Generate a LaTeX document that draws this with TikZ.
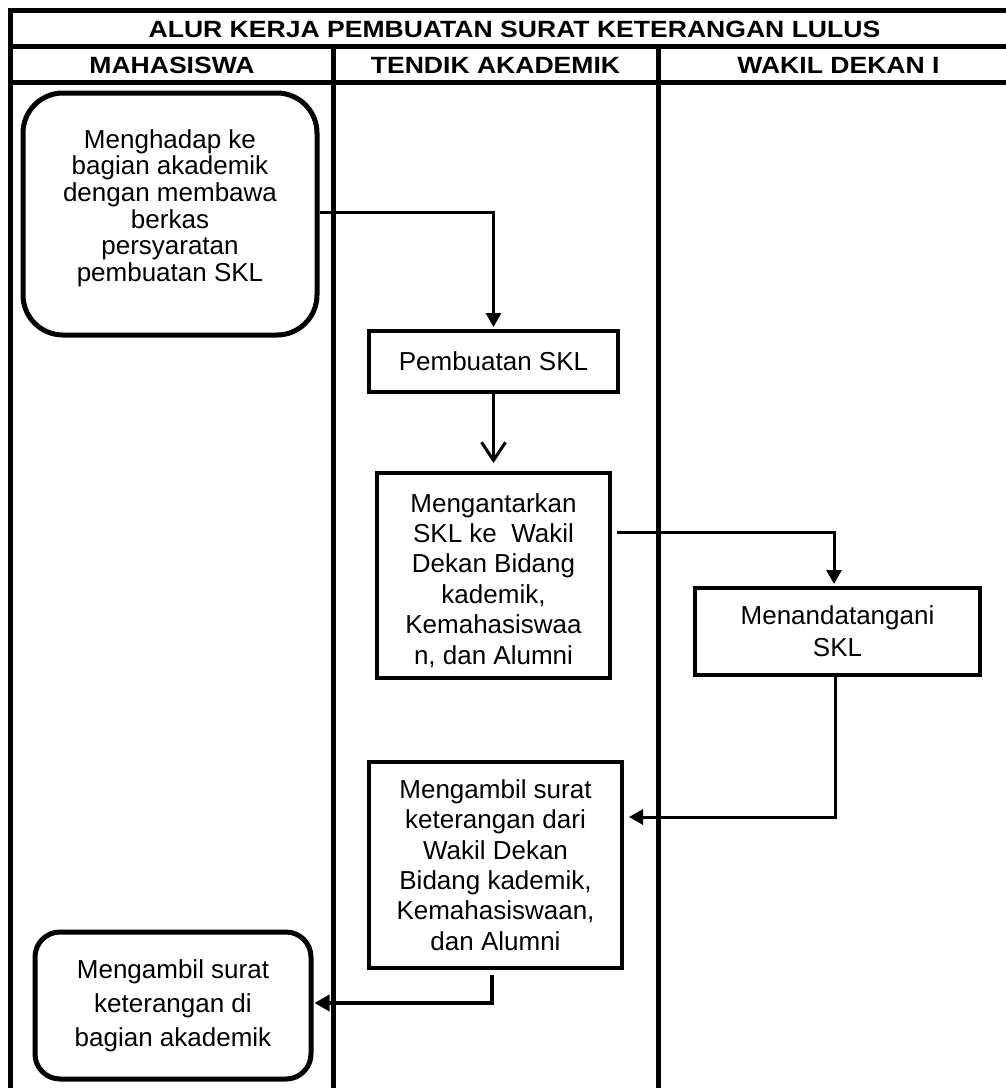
\documentclass[tikz,border=0pt]{standalone}
\usepackage{fontspec}
\setmainfont{Liberation Sans}
\newfontfamily\hdrfont{Liberation Sans}[FakeStretch=1.13]
\usetikzlibrary{arrows.meta,calc}
\begin{document}
\begin{tikzpicture}[x=1pt,y=-1pt,
  lane/.style={line width=5pt},
  procbox/.style={draw, line width=4pt, align=center, inner sep=0pt},
  termbox/.style={draw, line width=5pt, align=center, inner sep=0pt},
  conn/.style={line width=3pt},
  tri/.style={-{Triangle[length=14pt,width=15pt]}},
  hdr/.style={font=\hdrfont\fontsize{23.5}{28}\selectfont\bfseries, inner sep=0pt, anchor=base}
]
\clip (0,0) rectangle (1006,1088);
% table frame
\draw[lane] (10,10) rectangle (1019,1110);
\draw[lane] (10,46.5) -- (1019,46.5);
\draw[lane] (10,82.5) -- (1019,82.5);
\draw[lane] (333.5,46.5) -- (333.5,1110);
\draw[lane] (658,46.5) -- (658,1110);

% headers
\node[hdr] (title) at (514.5,37) {ALUR KERJA PEMBUATAN SURAT KETERANGAN LULUS};
\node[hdr] (h1) at (172,73.3) {MAHASISWA};
\node[hdr] (h2) at (495.5,73.3) {TENDIK AKADEMIK};
\node[hdr] (h3) at (838.5,73.3) {WAKIL DEKAN I};

% boxes
\node[termbox, rounded corners=40pt, minimum width=294pt, minimum height=242pt,
      font=\fontsize{26}{26.7}\selectfont] (m1) at (170,214)
  {Menghadap ke\\bagian akademik\\dengan membawa\\berkas\\persyaratan\\pembuatan SKL\rule[-17pt]{0pt}{0pt}};
\node[procbox, minimum width=249pt, minimum height=61pt,
      font=\fontsize{26}{28}\selectfont] (pemb) at (493.5,361.5) {Pembuatan SKL};
\node[procbox, minimum width=233pt, minimum height=205pt,
      font=\fontsize{26}{30.4}\selectfont] (ant) at (493.5,575.5)
  {\rule{0pt}{28.4pt}Mengantarkan\\SKL ke~ Wakil\\Dekan Bidang\\kademik,\\Kemahasiswaa\\n, dan Alumni};
\node[procbox, minimum width=285pt, minimum height=87pt,
      font=\fontsize{26}{31.7}\selectfont] (tand) at (837.5,631.5)
  {Menandatangani\\SKL};
\node[procbox, minimum width=253pt, minimum height=206pt,
      font=\fontsize{26}{30.3}\selectfont] (amb) at (495.5,865)
  {Mengambil surat\\keterangan dari\\Wakil Dekan\\Bidang kademik,\\Kemahasiswaan,\\dan Alumni};
\node[termbox, rounded corners=25pt, minimum width=276pt, minimum height=147pt,
      font=\fontsize{26}{34}\selectfont] (mb) at (173,1005.5)
  {Mengambil surat\\keterangan di\\bagian akademik};

% connectors
\draw[conn, tri, shorten >=2pt] ([yshift=2pt]m1.east) -| (pemb.north);
\draw[conn, -{Straight Barb[length=18pt,width=24pt]}, shorten >=8pt] (pemb.south) -- (ant.north);
\coordinate (c3) at ($(ant.east)+(5,-43.5)$);
\draw[conn, tri, shorten >=2pt] (c3) -| ([xshift=-3.5pt]tand.north);
\coordinate (c4) at ($(amb.east)+(5,-48)$);
\draw[conn, tri] ([xshift=-2.5pt]tand.south) |- (c4);
\coordinate (c5) at ($(amb.south)+(-3.5,5)$);
\draw[line width=4.5pt, -{Triangle[length=15pt,width=16pt]}, shorten >=1pt] (c5) |- ([yshift=2.5pt]mb.east);
\end{tikzpicture}
\end{document}
